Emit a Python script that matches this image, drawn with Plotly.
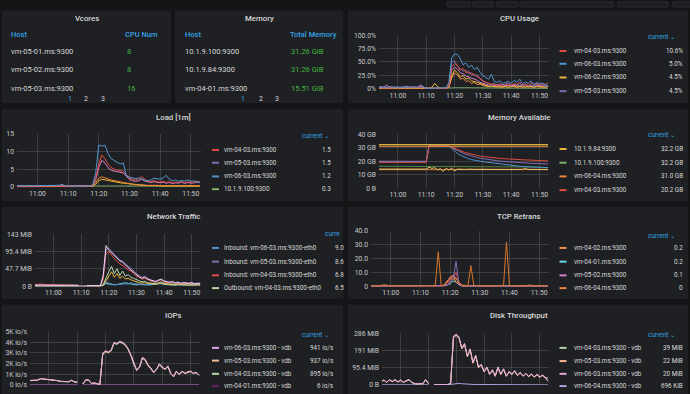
import plotly.graph_objects as go
import pandas as pd

W, H = 690, 394
FONT = "Roboto, 'Noto Sans', 'DejaVu Sans', sans-serif"
BODY_BG = "#141517"
PANEL_BG = "#1f2023"
TEXT = "#d8d9da"
TICK = "#c8c9cb"
BLUE = "#33a2e5"
GREEN = "#44b53f"
GRID = "rgba(150,150,150,0.25)"

# ---------------- time axis ----------------
times = pd.date_range("2020-06-01 10:53", periods=61, freq="min")
x_range = ["2020-06-01 10:53:20", "2020-06-01 11:53:20"]
x_tick_vals = pd.date_range("2020-06-01 11:00", periods=6, freq="10min")
x_tick_text = ["11:00", "11:10", "11:20", "11:30", "11:40", "11:50"]

# ---------------- tables ----------------
vcores_hosts = ["vm-05-01.ms:9300", "vm-05-02.ms:9300", "vm-05-03.ms:9300"]
vcores_nums = ["8", "8", "16"]
memory_hosts = ["10.1.9.100:9300", "10.1.9.84:9300", "vm-04-01.ms:9300"]
memory_totals = ["31.26 GiB", "31.26 GiB", "15.51 GiB"]
pages = ["1", "2", "3"]

# ---------------- CPU usage (%) ----------------
cpu_0403 = [2,2,3,2,2,3,2,2,2,3, 2,2,2,3,2,3,2,1,1,1, 1,1,1,1,1,6,40,47,44,35,
            38,30,32,26,28,22,20,14,12,10, 9,8,7,10,6,8,9,7,10,8, 12,7,9,6,11,8,10,7,9,8, 10.6]
cpu_0603 = [3,3,2,3,4,3,3,3,3,2, 3,3,4,3,3,5,3,1,1,1, 2,1,1,1,2,12,58,65,64,56,
            45,48,40,44,36,40,31,25,22,18, 27,14,12,15,10,12,14,10,16,12, 18,9,13,10,15,8,12,9,11,8, 5]
cpu_0602 = [2,2,2,2,2,2,2,2,2,2, 2,2,2,2,2,2,2,1,1,3, 10,4,1,1,1,3,24,35,30,22,
            25,18,20,15,14,12,10,8,6,5, 5,4,5,3,4,5,3,4,6,3, 5,4,3,5,4,3,5,4,4,3, 4.5]
cpu_0503 = [2,3,2,2,3,2,2,3,2,2, 2,3,2,2,2,2,3,1,1,1, 1,1,1,1,1,5,50,52,42,38,
            33,35,28,30,24,26,18,15,12,10, 8,10,7,9,6,8,11,6,9,7, 10,5,8,6,7,5,8,6,7,5, 4.5]
cpu_0402 = [1,1,1,1,1,1,1,1,1,1, 1,1,1,1,1,1,1,1,1,1, 1,1,1,1,1,3,20,30,26,18,
            20,14,15,10,12,8,9,6,5,4, 5,4,3,5,3,4,3,5,4,3, 4,3,5,3,4,3,4,3,3,4, 3]
cpu_0502 = [3,4,3,7,3,3,3,3,3,3, 5,3,3,3,3,7,3,0.5,0.5,0.5, 1,0.5,0.5,0.5,0.5,4,35,40,37,30,
            28,24,22,20,18,16,12,10,8,7, 8,6,7,5,8,6,7,5,6,7, 5,6,8,5,6,5,7,5,6,5, 6]
cpu_0401 = [1.5,1.5,1.5,1.5,1.5,1.5,1.5,1.5,1.5,1.5, 1.5,1.5,1.5,1.5,1.5,1.5,1.5,0.3,0.3,0.3,
            0.3,0.3,0.3,0.3,0.3,0.5,1.5,2,2,1.5, 1.5,1.2,1.2,1,1,1,1,1,1,1,
            1,1,1,1,1,1,1,1,1,1, 1,1,1,1,1,1,1,1,1,1, 1]

# ---------------- Load [1m] ----------------
load_0403 = [0.3,0.4,0.3,0.3,0.4,0.3,0.3,0.3,0.3,0.4, 0.3,0.3,0.3,0.3,0.3,0.5,0.3,0.3,0.3,0.2,
             0.2,0.2,0.2,0.2,0.3,0.5,2.5,6.5,9.0,8.0, 6.5,5.5,5.0,4.8,4.6,4.5,3.5,2.5,2.2,2.0,
             2.3,3.0,2.2,1.6,1.5,1.8,1.5,1.4,1.6,1.3, 1.5,1.2,1.4,1.3,1.6,1.2,1.5,1.3,1.4,1.5, 1.5]
load_0503 = [0.2,0.2,0.2,0.2,0.2,0.2,0.2,0.2,0.2,0.2, 0.2,0.2,0.2,0.2,0.2,0.2,0.2,0.2,0.2,0.2,
             0.2,0.2,0.2,0.2,0.2,0.4,2.0,5.5,7.5,6.8, 5.5,4.8,4.5,4.3,4.2,4.0,3.0,2.2,1.8,1.6,
             1.8,2.2,1.7,1.4,1.3,1.5,1.3,1.2,1.4,1.1, 1.3,1.0,1.2,1.1,1.4,1.0,1.3,1.1,1.2,1.4, 1.5]
load_0603 = [0.4,0.5,0.4,0.4,0.5,0.4,0.4,0.4,0.5,0.4, 0.4,0.4,0.4,0.4,0.5,0.8,0.4,0.3,0.3,0.3,
             0.3,0.3,0.3,0.3,0.3,0.6,4.0,11.8,11.5,11.8, 9.5,8.0,7.5,7.0,6.5,6.8,3.2,2.8,2.6,2.4,
             2.6,2.2,2.0,1.8,2.0,2.5,2.4,2.2,2.6,3.3, 2.2,1.8,2.0,1.6,1.9,1.7,2.0,1.6,1.8,1.4, 1.2]
load_0402 = [0.1,0.1,0.1,0.1,0.1,0.1,0.1,0.1,0.1,0.1, 0.1,0.1,0.1,0.1,0.1,0.1,0.1,0.1,0.1,0.1,
             0.1,0.1,0.1,0.1,0.1,0.2,1.2,2.5,2.9,2.7, 2.3,2.0,1.8,1.6,1.5,1.4,1.2,1.0,0.8,0.7,
             0.6,0.6,0.5,0.5,0.5,0.6,0.5,0.4,0.5,0.4, 0.4,0.5,0.4,0.4,0.5,0.4,0.4,0.5,0.4,0.4, 0.4]
load_0602 = [0.1,0.2,0.1,0.1,0.2,0.1,0.1,0.2,0.1,0.1, 0.1,0.2,0.1,0.1,0.1,0.2,0.1,0.1,0.1,0.1,
             0.1,0.1,0.1,0.1,0.1,0.2,0.8,1.8,2.2,2.0, 1.8,1.6,1.4,1.3,1.2,1.1,1.0,0.8,0.7,0.6,
             0.5,0.5,0.4,0.4,0.4,0.5,0.4,0.3,0.4,0.3, 0.3,0.4,0.3,0.3,0.3,0.4,0.3,0.3,0.3,0.3, 0.3]
load_100 = [0.3,0.3,0.3,0.3,0.3,0.3,0.3,0.3,0.3,0.3, 0.3,0.3,0.3,0.3,0.3,0.3,0.3,0.3,0.3,0.3,
            0.3,0.3,0.3,0.3,0.3,0.3,0.4,0.5,0.5,0.4, 0.4,0.4,0.3,0.3,0.3,0.3,0.3,0.3,0.3,0.3,
            0.3,0.3,0.3,0.3,0.3,0.3,0.3,0.3,0.3,0.3, 0.3,0.3,0.3,0.3,0.3,0.3,0.3,0.3,0.3,0.3, 0.3]

# ---------------- Memory available (GB) ----------------
mem_84 = [32.2,32.2,32.2,32.2,32.2,32.2,32.2,32.2,32.2,32.2, 32.2,32.2,32.2,32.2,32.2,32.2,32.2,32.2,32.2,32.2,
          32.2,32.2,32.2,32.2,32.2,32.2,32.2,32.2,32.2,32.2, 32.2,32.2,32.2,32.2,32.2,32.2,32.2,32.2,32.2,32.2,
          32.2,32.2,32.2,32.2,32.2,32.2,32.2,32.2,32.2,32.2, 32.2,32.2,32.2,32.2,32.2,32.2,32.2,32.2,32.2,32.2, 32.2]
mem_100 = [32.2,32.2,32.2,32.2,32.2,32.2,32.2,32.2,32.2,32.2, 32.2,32.2,32.2,32.2,32.2,32.2,32.2,32.2,32.2,32.2,
           32.2,32.2,32.2,32.2,32.2,32.2,32.2,32.2,32.2,32.2, 32.2,32.2,32.2,32.2,32.2,32.2,32.2,32.2,32.2,32.2,
           32.2,32.2,32.2,32.2,32.2,32.2,32.2,32.2,32.2,32.2, 32.2,32.2,32.2,32.2,32.2,32.2,32.2,32.2,32.2,32.2, 32.2]
mem_0604 = [31.0,31.0,31.0,31.0,31.0,31.0,31.0,31.0,31.0,31.0, 31.0,31.0,31.0,31.0,31.0,31.0,31.0,31.0,31.0,31.0,
            31.0,31.0,31.0,31.0,31.0,31.0,31.0,31.0,31.0,31.0, 31.0,31.0,31.0,31.0,31.0,31.0,31.0,31.0,31.0,31.0,
            31.0,31.0,31.0,31.0,31.0,31.0,31.0,31.0,31.0,31.0, 31.0,31.0,31.0,31.0,31.0,31.0,31.0,31.0,31.0,31.0, 31.0]
mem_0403 = [19.2,19.2,19.2,19.2,19.2,19.2,19.2,19.2,19.2,19.2, 19.2,19.2,19.2,19.2,19.2,19.2,19.2,19.2,31.3,31.3,
            31.2,31.2,31.1,31.1,31.0,31.0,30.5,29.5,28.6,27.8, 27.0,26.3,25.7,25.1,24.6,24.2,23.8,23.5,23.2,22.9,
            22.7,22.5,22.3,22.1,21.9,21.8,21.6,21.5,21.4,21.3, 21.2,21.1,21.0,20.9,20.8,20.7,20.6,20.5,20.4,20.3, 20.2]
mem_0503 = [20.0,20.0,20.0,20.0,20.0,20.0,20.0,20.0,20.0,20.0, 20.0,20.0,20.0,20.0,20.0,20.0,20.0,20.0,31.5,31.5,
            31.4,31.4,31.3,31.3,31.2,31.2,30.2,29.0,27.8,26.8, 25.9,25.1,24.4,23.8,23.2,22.7,22.3,21.9,21.5,21.2,
            20.9,20.6,20.4,20.1,19.9,19.7,19.5,19.4,19.2,19.1, 18.9,18.8,18.7,18.6,18.5,18.4,18.3,18.2,18.1,18.0, 18.0]
mem_0603 = [19.6,19.6,19.6,19.6,19.6,19.6,19.6,19.6,19.6,19.6, 19.6,19.6,19.6,19.6,19.6,19.6,19.6,19.6,31.4,31.4,
            31.3,31.3,31.2,31.2,31.1,31.1,29.5,27.5,25.8,24.5, 23.4,22.5,21.8,21.2,20.7,20.3,20.0,19.7,19.4,19.1,
            18.8,18.5,18.2,17.9,17.6,17.3,17.1,16.9,16.7,16.5, 16.3,16.1,16.0,15.9,15.8,15.7,15.6,15.5,15.4,15.3, 15.3]
mem_0501 = [16.3,16.3,16.3,16.3,16.3,16.3,16.3,16.3,16.3,16.3, 16.3,16.3,16.3,16.3,16.3,16.3,16.3,16.3,16.3,16.3,
            16.3,16.3,16.3,16.3,16.3,16.3,16.3,16.3,16.3,16.3, 16.3,16.3,16.3,16.3,16.3,16.3,16.3,16.3,16.3,16.3,
            16.3,16.3,16.3,16.3,16.3,16.3,16.3,16.3,16.3,16.3, 16.2,16.1,16.0,15.9,15.8,15.7,15.6,15.5,15.4,15.3, 15.2]
mem_0401 = [14.2,14.2,14.2,14.2,14.2,14.2,14.2,14.2,14.2,14.2, 14.2,14.2,14.2,14.2,14.2,14.2,14.2,14.2,15.5,14.8,
            15.2,13.8,14.5,12.5,14.8,13.5,15.0,12.8,14.2,14.0, 14.1,14.0,14.2,14.0,14.1,14.0,14.1,14.0,14.0,14.1,
            14.0,14.1,14.0,14.0,14.1,14.0,14.0,14.1,14.0,14.0, 14.0,14.1,14.6,14.0,14.0,14.1,14.0,14.0,14.0,14.0, 14.0]
mem_0402 = [13.8,13.8,13.8,13.8,13.8,13.8,13.8,13.8,13.8,13.8, 13.8,13.8,13.8,13.8,13.8,13.8,13.8,13.8,13.8,13.8,
            13.8,13.8,13.8,13.8,13.8,13.8,13.8,13.8,13.8,13.8, 13.8,13.8,13.8,13.8,13.8,13.8,13.8,13.8,13.8,13.8,
            13.8,13.8,13.8,13.8,13.8,13.8,13.8,13.8,13.8,13.8, 13.8,13.8,13.8,13.8,13.8,13.8,13.8,13.8,13.8,13.8, 13.8]

# ---------------- Network traffic (MiB) ----------------
net_in_0603 = [1,1,1,1,1,1,1,1,1,1, 1,1,1,1,1,1,1,0.5,0.5,0.5, 0.5,0.5,0.5,0.5,0.5,3,12,8,6,5,
               5,6,5,7,6,10,7,6,5,6, 5,6,5,7,6,8,6,5,6,5, 6,5,7,6,8,7,6,8,7,8, 9]
net_in_0503 = [2,2,2,2,2,2,2,2,2,2, 2,2,2,2,2,2,2,1,1,1, 1,1,1,1,1,30,100,105,95,88,
               80,72,70,62,55,50,42,35,30,25, 28,22,18,15,14,18,20,15,13,12, 14,10,12,9,11,10,9,11,8,9, 8.6]
net_in_0403 = [5,6,5,6,5,5,3,3,3,3, 3,3,3,3,3,3,3,1,1,1, 1,1,1,1,1,20,90,95,85,75,
               68,62,58,52,45,42,35,28,25,20, 22,18,15,12,11,16,18,12,10,9, 11,8,9,7,8,7,6,8,7,6, 6.8]
net_out_0403 = [1,1,1,1,1,1,1,1,1,1, 1,1,1,1,1,1,1,0.5,0.5,0.5, 0.5,0.5,0.5,0.5,0.5,5,25,40,55,35,
                48,30,42,28,32,25,22,18,15,12, 14,10,9,8,7,10,12,8,7,6, 7,6,7,6,7,6,6,7,6,6, 6.5]
net_out_0503 = [3,4,3,4,3,4,3,3,4,3, 3,4,3,3,4,3,3,None,None,2, 2,2,3,2,2,30,112,100,92,85,
                78,70,66,60,52,45,38,32,26,22, 25,20,17,14,13,17,19,14,12,11, 13,9,11,8,10,9,8,10,7,8, 7]
net_out_0603 = [0.5,0.5,0.5,0.5,0.5,0.5,0.5,0.5,0.5,0.5, 0.5,0.5,0.5,0.5,0.5,0.5,0.5,0.5,0.5,0.5,
                0.5,0.5,0.5,0.5,0.5,3,15,30,40,25, 35,22,28,20,22,18,15,12,10,9,
                10,8,7,6,6,8,9,6,5,5, 5,4,5,4,5,4,4,5,4,4, 4]
net_in_0604 = [0.5,0.5,0.5,0.5,0.5,0.5,0.5,0.5,0.5,0.5, 0.5,0.5,0.5,0.5,0.5,0.5,0.5,0.5,0.5,0.5,
               0.5,0.5,0.5,0.5,0.5,2,8,6,5,4, 5,6,8,10,8,6,5,4,5,4,
               5,4,4,5,4,6,8,5,4,4, 4,3,4,3,4,3,3,4,3,3, 3]

# ---------------- TCP retrans ----------------
tcp_0604 = [0.3,0.5,0.3,0.3,0.5,1.2,0.5,0.3,0.3,0.5, 0.3,0.3,0.5,0.3,0.3,0.3,0.5,0.3,0.5,0.3,
            0.5,0.3,0.5,25,0.5,1,3,7,5,6, 3,1,0.5,0.5,15,0.5,0.3,0.5,0.3,0.5,
            0.3,0.5,0.3,0.5,0.3,0.5,32,0.5,0.3,0.5, 0.3,0.5,0.3,0.5,1,0.5,0.3,0.5,0.3,0.5, 0]
tcp_0402 = [0.2,0.2,0.2,0.2,0.2,0.2,0.2,0.2,0.2,0.2, 0.2,0.2,0.2,0.2,0.2,0.2,0.2,0.2,0.2,0.2,
            0.2,0.2,0.2,0.2,0.2,1,4,6,8,3, 2,0.5,0.2,0.2,0.2,0.2,0.2,0.2,0.2,0.2,
            0.2,0.2,0.2,0.2,0.2,0.2,0.2,0.2,0.2,0.2, 0.2,0.2,0.2,0.2,0.2,0.2,0.2,0.2,0.2,0.2, 0.2]
tcp_0401 = [0.1,0.1,0.1,0.1,0.1,0.1,0.1,0.1,0.1,0.1, 0.1,0.1,0.1,0.1,0.1,0.1,0.1,0.1,0.1,0.1,
            0.1,0.1,0.1,0.1,0.1,0.5,1,2,4,3, 1,0.2,0.2,0.2,0.2,0.2,0.2,0.2,0.2,0.2,
            0.2,0.2,0.2,0.2,0.2,0.2,0.2,0.2,0.2,0.2, 0.2,0.2,0.2,0.2,0.2,0.2,0.2,0.2,0.2,0.2, 0.2]
tcp_0502 = [0.1,0.1,0.1,0.1,0.1,0.1,0.1,0.1,0.1,0.1, 0.1,0.1,0.1,0.1,0.1,0.1,0.1,0.1,0.1,0.1,
            0.1,0.1,0.1,0.1,0.1,0.5,3,5,8,6, 2,0.1,0.1,0.1,0.1,0.1,0.1,0.1,0.1,0.1,
            0.1,0.1,0.1,0.1,0.1,0.1,0.1,0.1,0.1,0.1, 0.1,0.1,0.1,0.1,0.1,0.1,0.1,0.1,0.1,0.1, 0.1]
tcp_0503 = [0,0,0,0,0,0,0,0,0,0, 0,0,0,0,0,0,0,0,0,0, 0,0,0,0,0,0,0.5,3,5,18,
            1,0,0,0,0,0,0,0,0,0, 0,0,0,0,0,0,0,0,0,0, 0,0,0,0,0,0,0,0,0,0, 0]
tcp_0403 = [0,0,0,0,0,0,0,0,0,0, 0,0,0,0,0,0,0,0,0,0, 0,0,0,0,0,0,1,4,6,10,
            3,0,0,0,0,0,0,0,0,0, 0,0,0,0,0,0,0,0,0,0, 0,0,0,0,0,0,0,0,0,0, 0]

# ---------------- IOPs (io/s) ----------------
iops_0603 = [430,450,420,460,600,580,560,540,500,450, 420,350,320,300,310,450,300,290,None,100,
             500,480,150,200,100,50,3000,3200,3100,3300, 4000,3900,4100,4000,3800,3400,2800,2000,1400,1700,
             2600,2400,1900,1600,1200,1500,2000,1700,1500,1800, 1100,800,1300,1000,1300,1100,1250,1300,1100,1200, 941]
iops_0503 = [400,430,410,440,580,560,540,520,480,430, 400,330,300,290,300,420,280,270,None,90,
             460,450,130,180,90,40,2900,3150,3000,3250, 3950,3850,4050,3950,3750,3350,2750,1950,1350,1650,
             2550,2350,1850,1550,1150,1450,1950,1650,1450,1750, 1050,780,1250,980,1250,1080,1200,1250,1080,1150, 937]
iops_0403 = [410,440,400,450,590,570,550,530,490,440, 410,340,310,295,305,440,290,280,None,95,
             480,470,140,190,95,45,2850,3100,3050,3200, 3900,3800,4000,3900,3700,3300,2700,1900,1380,1680,
             2500,2300,1800,1500,1180,1480,1900,1600,1480,1700, 1080,760,1280,990,1270,1090,1220,1270,1090,1180, 895]
iops_0401 = [6,6,5,6,7,6,6,5,6,6, 6,6,5,6,6,7,6,6,None,5, 6,6,5,6,6,6,8,9,8,7,
             7,6,6,6,7,6,6,6,5,6, 6,6,6,5,6,6,7,6,6,6, 6,5,6,6,6,6,5,6,6,6, 6]
iops_0604 = [30,32,30,31,30,32,30,31,30,30, 30,31,30,30,31,30,30,30,None,25, 28,27,26,25,26,28,40,45,42,40,
             38,36,35,35,34,33,32,32,31,30, 30,31,30,30,31,30,30,31,30,30, 30,30,31,30,30,30,31,30,30,30, 30]

# ---------------- Disk throughput (MiB) ----------------
disk_0603 = [18,28,15,30,20,30,18,28,15,25, 30,15,8,6,9,7,30,8,None,2,
             3,2,3,2,3,10,270,280,265,205, 230,160,200,125,165,100,115,75,100,60,
             85,50,100,60,90,50,75,60,80,55, 70,50,65,48,62,45,60,45,55,42, 20]
disk_0503 = [16,26,14,28,18,28,16,26,14,23, 28,14,7,5,8,6,28,7,None,2,
             3,2,2,3,2,8,260,275,258,200, 222,155,195,120,158,96,110,72,96,58,
             80,48,95,58,86,48,72,57,76,52, 66,48,62,46,58,43,57,43,52,40, 22]
disk_0403 = [17,27,15,29,19,29,17,27,15,24, 29,15,8,6,8,7,29,8,None,2,
             2,3,2,3,2,9,265,278,262,202, 226,158,198,122,162,98,112,74,98,59,
             83,49,98,59,88,49,74,58,78,54, 68,49,64,47,60,44,58,44,54,41, 39]
disk_0604 = [1,1,1,1,1,1,1,1,1,1, 1,1,1,1,1,1,1,1,None,2,
             3,2,3,2,3,3,6,8,9,7, 5,4,4,3,3,3,2,2,2,2,
             2,2,2,2,2,2,2,2,2,2, 1.5,1.5,1.5,1.5,1.5,1.5,1.5,1.5,1.5,1.5, 0.68]

# ---------------- colours ----------------
C_RED, C_BLUE, C_YEL, C_PUR = "#E24D42", "#5195CE", "#EAB839", "#806EB7"
C_ORA, C_PINK, C_GRN, C_CYAN = "#EF843C", "#D683CE", "#7EB26D", "#6ED0E0"
C_LGRN, C_LORA, C_LPINK, C_LAV = "#B7DBAB", "#F9BA8F", "#E5A8E2", "#AEA2E0"

charts = [
    dict(title="CPU Usage", panel=(348, 7, 688, 101), title_y=15,
         box=(379, 549, 31.7, 86.7), ymax=100, xlabels=True,
         yt=[0, 25, 50, 75, 100], ytt=["0%", "25.0%", "50.0%", "75.0%", "100.0%"],
         series=[("vm-04-01.ms:9300", cpu_0401, C_GRN), ("vm-04-02.ms:9300", cpu_0402, C_ORA),
                 ("vm-05-02.ms:9300", cpu_0502, C_PINK), ("vm-06-02.ms:9300", cpu_0602, C_YEL),
                 ("vm-05-03.ms:9300", cpu_0503, C_PUR), ("vm-04-03.ms:9300", cpu_0403, C_RED),
                 ("vm-06-03.ms:9300", cpu_0603, C_BLUE)],
         side="R", cur_y=34, rows=[48, 61, 75, 89],
         legend=[("vm-04-03.ms:9300", C_RED, "10.6%"), ("vm-06-03.ms:9300", C_BLUE, "5.0%"),
                 ("vm-06-02.ms:9300", C_YEL, "4.5%"), ("vm-05-03.ms:9300", C_PUR, "4.5%")]),
    dict(title="Load [1m]", panel=(2, 107, 343, 201), title_y=116,
         box=(17, 201, 132.3, 187), ymax=15, xlabels=True,
         yt=[0, 5, 10, 15], ytt=["0", "5", "10", "15"],
         series=[("10.1.9.100:9300", load_100, C_GRN), ("vm-06-02.ms:9300", load_0602, C_YEL),
                 ("vm-04-02.ms:9300", load_0402, C_ORA), ("vm-05-03.ms:9300", load_0503, C_PINK),
                 ("vm-04-03.ms:9300", load_0403, C_RED), ("vm-06-03.ms:9300", load_0603, C_BLUE)],
         side="L", cur_y=135, rows=[149, 162, 176, 189],
         legend=[("vm-04-03.ms:9300", C_RED, "1.5"), ("vm-05-03.ms:9300", C_PUR, "1.5"),
                 ("vm-06-03.ms:9300", C_BLUE, "1.2"), ("10.1.9.100:9300", C_GRN, "0.3")]),
    dict(title="Memory Available", panel=(348, 107, 688, 201), title_y=116,
         box=(379, 549, 132.7, 188.3), ymax=40, xlabels=True,
         yt=[0, 10, 20, 30, 40], ytt=["0 B", "10 GB", "20 GB", "30 GB", "40 GB"],
         series=[("vm-04-02.ms:9300", mem_0402, "#E0752D"), ("vm-04-01.ms:9300", mem_0401, "#F2C96D"),
                 ("vm-05-01.ms:9300", mem_0501, "#508642"), ("vm-06-03.ms:9300", mem_0603, C_BLUE),
                 ("vm-05-03.ms:9300", mem_0503, C_PUR), ("vm-04-03.ms:9300", mem_0403, C_RED),
                 ("10.1.9.100:9300", mem_100, C_GRN), ("vm-06-04.ms:9300", mem_0604, C_ORA),
                 ("10.1.9.84:9300", mem_84, C_YEL)],
         side="R", cur_y=134, rows=[148, 162, 176, 190],
         legend=[("10.1.9.84:9300", C_YEL, "32.2 GB"), ("10.1.9.100:9300", C_GRN, "32.2 GB"),
                 ("vm-06-04.ms:9300", C_ORA, "31.0 GB"), ("vm-04-03.ms:9300", C_RED, "20.2 GB")]),
    dict(title="Network Traffic", panel=(2, 207, 343, 301), title_y=217,
         box=(35, 201, 235, 288.3), ymax=143, xlabels=True,
         yt=[0, 47.7, 95.4, 143], ytt=["0 B", "47.7 MiB", "95.4 MiB", "143 MiB"],
         series=[("Inbound: vm-06-04.ms:9300-eth0", net_in_0604, C_CYAN),
                 ("Inbound: vm-06-03.ms:9300-eth0", net_in_0603, C_BLUE),
                 ("Outbound: vm-06-03.ms:9300-eth0", net_out_0603, C_YEL),
                 ("Outbound: vm-04-03.ms:9300-eth0", net_out_0403, C_LGRN),
                 ("Inbound: vm-04-03.ms:9300-eth0", net_in_0403, C_RED),
                 ("Inbound: vm-05-03.ms:9300-eth0", net_in_0503, C_PUR),
                 ("Outbound: vm-05-03.ms:9300-eth0", net_out_0503, "#F3D4F3")],
         side="L", cur_y=235, rows=[249, 263, 277, 290], truncated=True,
         legend=[("Inbound: vm-06-03.ms:9300-eth0", C_BLUE, "9.0"),
                 ("Inbound: vm-05-03.ms:9300-eth0", C_PUR, "8.6"),
                 ("Inbound: vm-04-03.ms:9300-eth0", C_RED, "6.8"),
                 ("Outbound: vm-04-03.ms:9300-eth0", C_LGRN, "6.5")]),
    dict(title="TCP Retrans", panel=(348, 207, 688, 301), title_y=217,
         box=(371, 549, 231.7, 288.3), ymax=40, xlabels=True,
         yt=[0, 10, 20, 30, 40], ytt=["0", "10.0", "20.0", "30.0", "40.0"],
         series=[("vm-04-01.ms:9300", tcp_0401, "#70DBED"), ("vm-05-02.ms:9300", tcp_0502, C_PINK),
                 ("vm-04-02.ms:9300", tcp_0402, "#F9934E"), ("vm-04-03.ms:9300", tcp_0403, C_RED),
                 ("vm-05-03.ms:9300", tcp_0503, C_PUR), ("vm-06-04.ms:9300", tcp_0604, "#D9752A")],
         side="R", cur_y=236.5, rows=[249, 263, 277, 290],
         legend=[("vm-04-02.ms:9300", "#F9934E", "0.2"), ("vm-04-01.ms:9300", "#70DBED", "0.2"),
                 ("vm-05-02.ms:9300", C_PINK, "0.1"), ("vm-06-04.ms:9300", C_ORA, "0")]),
    dict(title="IOPs", panel=(2, 307, 343, 400), title_y=318,
         box=(30, 200, 334.3, 389), ymax=5000, xlabels=False,
         yt=[0, 1000, 2000, 3000, 4000, 5000],
         ytt=["0 io/s", "1K io/s", "2K io/s", "3K io/s", "4K io/s", "5K io/s"],
         series=[("vm-06-04.ms:9300 - vdb", iops_0604, C_LAV), ("vm-04-01.ms:9300 - vdb", iops_0401, "#6D1F62"),
                 ("vm-04-03.ms:9300 - vdb", iops_0403, C_LGRN), ("vm-05-03.ms:9300 - vdb", iops_0503, C_LORA),
                 ("vm-06-03.ms:9300 - vdb", iops_0603, C_LPINK)],
         side="L", cur_y=338, rows=[351, 364, 377.5, 390], val_right=335,
         legend=[("vm-06-03.ms:9300 - vdb", C_LPINK, "941 io/s"), ("vm-05-03.ms:9300 - vdb", C_LORA, "937 io/s"),
                 ("vm-04-03.ms:9300 - vdb", C_LGRN, "895 io/s"), ("vm-04-01.ms:9300 - vdb", "#6D1F62", "6 io/s")]),
    dict(title="Disk Throughput", panel=(348, 307, 688, 400), title_y=318,
         box=(382, 549, 336, 389), ymax=286, xlabels=False,
         yt=[0, 95.4, 191, 286], ytt=["0 B", "95.4 MiB", "191 MiB", "286 MiB"],
         series=[("vm-06-04.ms:9300 - vdb", disk_0604, C_LAV), ("vm-04-03.ms:9300 - vdb", disk_0403, C_LGRN),
                 ("vm-05-03.ms:9300 - vdb", disk_0503, C_LORA), ("vm-06-03.ms:9300 - vdb", disk_0603, C_LPINK)],
         side="R", cur_y=338, rows=[351, 364.5, 377.5, 390],
         legend=[("vm-04-03.ms:9300 - vdb", C_LGRN, "39 MiB"), ("vm-05-03.ms:9300 - vdb", C_LORA, "22 MiB"),
                 ("vm-06-03.ms:9300 - vdb", C_LPINK, "20 MiB"), ("vm-06-04.ms:9300 - vdb", C_LAV, "696 KiB")]),
]

fig = go.Figure()
shapes, annotations = [], []


def px(x):
    return x / W


def py(y):
    return 1 - y / H


def text(x, y, s, size=7, color=TEXT, anchor="left", weight="normal"):
    annotations.append(dict(x=px(x), y=py(y), xref="paper", yref="paper", text=s,
                            showarrow=False, xanchor=anchor, yanchor="middle",
                            font=dict(family=FONT, size=size, color=color, weight=weight)))


def rect(x0, y0, x1, y1, fill, line=None):
    shapes.append(dict(type="rect", xref="paper", yref="paper", layer="below",
                       x0=px(x0), x1=px(x1), y0=py(y1), y1=py(y0), fillcolor=fill,
                       line=dict(width=1 if line else 0, color=line or fill)))


# header buttons (partially visible at top)
for bx0, bx1 in [(447, 470), (473, 493), (497, 517), (520, 613), (618, 668), (673, 692)]:
    rect(bx0, -2, bx1, 3, "#1c1d20", "#2c2e33")

# ---------------- table panels ----------------
rect(2, 7, 171, 101, PANEL_BG)
rect(175, 7, 343, 101, PANEL_BG)
text(86.5, 15, "Vcores", size=7.8, weight=500, anchor="center")
text(259, 15, "Memory", size=7.8, weight=500, anchor="center")
text(9, 31, "Host", size=7.5, color=BLUE, weight=500)
text(123, 31, "CPU Num", size=7.5, color=BLUE, weight=500)
text(183, 31, "Host", size=7.5, color=BLUE, weight=500)
text(288, 31, "Total Memory", size=7.5, color=BLUE, weight=500)
for i, ry in enumerate([48, 67, 86]):
    text(9, ry, vcores_hosts[i], size=7.5)
    text(124.5, ry, vcores_nums[i], size=7.5, color=GREEN)
    text(183, ry, memory_hosts[i], size=7.5)
    text(289, ry, memory_totals[i], size=7.5, color=GREEN)
for i, (ax, bx) in enumerate(zip([70, 86, 103], [243, 261, 277])):
    col = BLUE if i == 0 else TEXT
    text(ax, 97, pages[i], size=7, color=col, anchor="center")
    text(bx, 97, pages[i], size=7, color=col, anchor="center")

# ---------------- graph panels ----------------
for k, c in enumerate(charts, start=1):
    p = c["panel"]
    rect(p[0], p[1], p[2], p[3], PANEL_BG)
    text((p[0] + p[2]) / 2 + 1, c["title_y"], c["title"], size=7.8, weight=500, anchor="center")

    x0, x1, yt, yb = c["box"]
    xa = "x" if k == 1 else f"x{k}"
    ya = "y" if k == 1 else f"y{k}"
    xk = "xaxis" if k == 1 else f"xaxis{k}"
    yk = "yaxis" if k == 1 else f"yaxis{k}"
    pad = c["ymax"] * 0.002
    fig.update_layout(**{
        xk: dict(domain=[px(x0), px(x1)], anchor=ya, type="date", range=x_range,
                 tickvals=x_tick_vals, ticktext=x_tick_text, showgrid=True, gridcolor=GRID,
                 gridwidth=1, zeroline=False, showline=False, ticks="", fixedrange=True,
                 showticklabels=c["xlabels"],
                 tickfont=dict(family=FONT, size=6.8, color=TICK), ticklabelstandoff=1),
        yk: dict(domain=[py(yb), py(yt)], anchor=xa, range=[-pad, c["ymax"] + pad],
                 tickvals=c["yt"], ticktext=c["ytt"], showgrid=True, gridcolor=GRID,
                 gridwidth=1, zeroline=False, showline=False, ticks="", fixedrange=True,
                 tickfont=dict(family=FONT, size=6.8, color=TICK), ticklabelstandoff=2),
    })
    for name, vals, col in c["series"]:
        fig.add_trace(go.Scatter(x=times, y=vals, name=name, mode="lines",
                                 line=dict(color=col, width=1), xaxis=xa, yaxis=ya,
                                 showlegend=False, hoverinfo="skip", connectgaps=False))

    # legend table
    if c["side"] == "R":
        sw, tx, vr, cr = 559.5, 571.5, 685, 678
    else:
        sw, tx, vr, cr = 212, 222, c.get("val_right", 333), 332
    if c.get("truncated"):
        text(323, c["cur_y"], "curre", size=6.5, color=BLUE)
    else:
        text(cr, c["cur_y"], "current ⌄", size=6.5, color=BLUE, anchor="right")
    for (lname, lcol, lval), ry in zip(c["legend"], c["rows"]):
        shapes.append(dict(type="rect", xref="paper", yref="paper", layer="above",
                           x0=px(sw), x1=px(sw + 7), y0=py(ry + 1), y1=py(ry - 1),
                           fillcolor=lcol, line=dict(width=0)))
        text(tx, ry, lname, size=6.3)
        if c.get("truncated"):
            text(332.5, ry, lval, size=6.3)
        else:
            text(vr, ry, lval, size=6.3, anchor="right")

fig.update_layout(width=W, height=H, margin=dict(l=0, r=0, t=0, b=0),
                  paper_bgcolor=BODY_BG, plot_bgcolor="rgba(0,0,0,0)",
                  shapes=shapes, annotations=annotations, showlegend=False,
                  font=dict(family=FONT, color=TEXT))

fig.write_html("out.html",
               config={"displayModeBar": False, "staticPlot": True},
               post_script="document.body.style.margin='0';document.body.style.overflow='hidden';"
                           "document.body.style.background='" + BODY_BG + "';")
